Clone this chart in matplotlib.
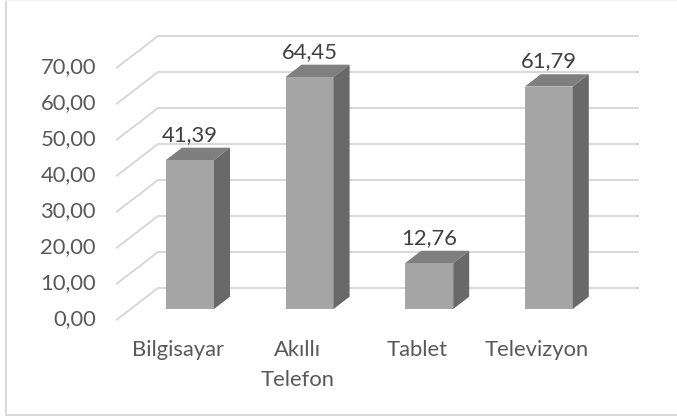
import matplotlib
matplotlib.use("Agg")
from matplotlib import pyplot as plt
from matplotlib.lines import Line2D
import numpy as np

categories = ["Bilgisayar", "Akıllı\nTelefon", "Tablet", "Televizyon"]
values = [41.39, 64.45, 12.76, 61.79]
value_labels = ["41,39", "64,45", "12,76", "61,79"]
ticks = [0, 10, 20, 30, 40, 50, 60, 70]
tick_labels = ["0,00", "10,00", "20,00", "30,00", "40,00", "50,00", "60,00", "70,00"]

W, H = 677, 419
# pixel scale of the chart
px_x = 119.6
px_y = 3.6

plt.rcParams['font.family'] = ['Lato', 'DejaVu Sans']
fig = plt.figure(figsize=(W / 100, H / 100), dpi=100)
ax = fig.add_axes([0, 0, 1, 1])
ax.set_xlim(-190 / px_x, (W - 190) / px_x)
ax.set_ylim((309 - H) / px_y, 309 / px_y)
ax.axis("off")

# outer frame: right side is cut off in the original, top is very faint
fig.add_artist(Line2D([6 / W, 6 / W, 1], [1, 1 - 415 / H, 1 - 415 / H], color="#d9d9d9", lw=1.5,
                      solid_joinstyle="miter"))
fig.add_artist(Line2D([6 / W, 1], [1 - 0.5 / H, 1 - 0.5 / H], color="#f4f4f4", lw=1))

# floor / wall grid
x0 = -73 / px_x
x1 = x0 + 41 / px_x
x2 = 448 / px_x
floor = -10.5 / px_y
rise = 31.5 / px_y
for t, lab in zip(ticks, tick_labels):
    ax.plot([x0, x1, x2], [t + floor, t + floor + rise, t + floor + rise], color="#d9d9d9", lw=1.5, zorder=1,
            solid_joinstyle="miter")
    ax.text(x0 - 21 / px_x, t + floor, lab, ha="right", va="center", fontsize=15.8, color="#595959")

# 3d bars
half = 24 / px_x
dx = 16 / px_x
dy = 12.3 / px_y
for i, v in enumerate(values):
    xa, xb = i - half, i + half
    ax.fill([xa, xb, xb, xa], [0, 0, v, v], color="#a5a5a5", lw=0, zorder=3)
    ax.fill([xa, xb, xb + dx, xa + dx], [v, v, v + dy, v + dy], color="#7f7f7f", lw=0, zorder=3)
    ax.fill([xb, xb + dx, xb + dx, xb], [0, dy, v + dy, v], color="#696969", lw=0, zorder=3)
    ax.text(i, v + 25 / px_y, value_labels[i], ha="center", va="center", fontsize=15.8, color="#404040", zorder=4)
    ax.text(i - 12 / px_x, -31 / px_y, categories[i], ha="center", va="top", fontsize=15.8, color="#595959",
            linespacing=1.6)

fig.savefig("out.png", dpi=100)
